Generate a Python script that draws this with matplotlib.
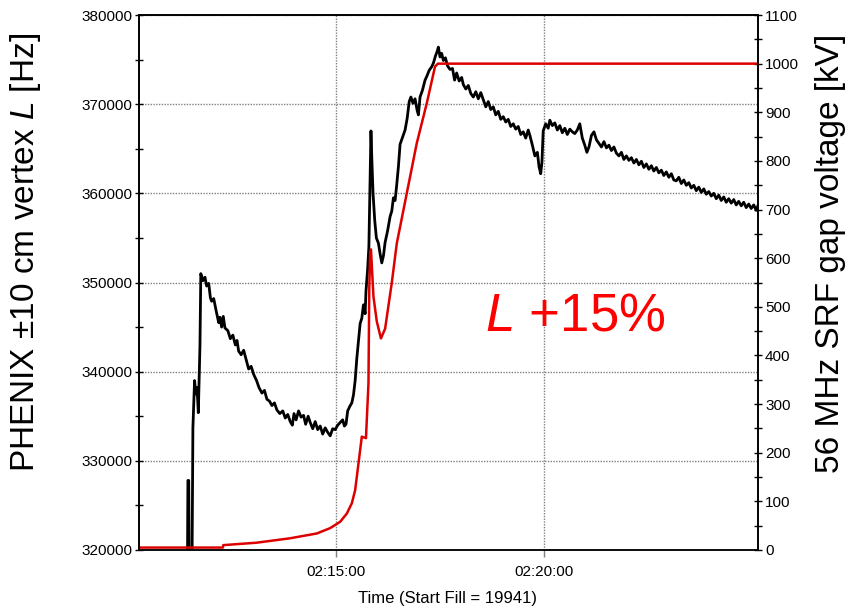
import matplotlib
matplotlib.use("Agg")
import matplotlib.pyplot as plt
from matplotlib.ticker import MultipleLocator, FixedLocator, FuncFormatter

plt.rcParams["font.family"] = ["Liberation Sans", "DejaVu Sans"]
plt.rcParams["mathtext.fontset"] = "custom"
plt.rcParams["mathtext.rm"] = "Liberation Sans"
plt.rcParams["mathtext.it"] = "Liberation Sans:italic"

# time in minutes after 02:10:00
lumi_time = [
    1.43, 1.44, 1.46, 1.47, 1.54, 1.56, 1.60, 1.63, 1.66, 1.69, 1.73, 1.75,
    1.80, 1.85, 1.89, 1.94, 1.98, 2.01, 2.06, 2.12, 2.18, 2.21, 2.25, 2.29,
    2.33, 2.40, 2.46, 2.52, 2.58, 2.62, 2.66, 2.72, 2.78, 2.85, 2.90, 2.96,
    3.02, 3.09, 3.15, 3.22, 3.28, 3.34, 3.40, 3.46, 3.52, 3.58, 3.65, 3.72,
    3.78, 3.84, 3.90, 3.95, 3.99, 4.04, 4.10, 4.16, 4.22, 4.27, 4.33, 4.38,
    4.44, 4.50, 4.56, 4.62, 4.68, 4.74, 4.80, 4.86, 4.92, 4.98, 5.04, 5.10,
    5.16, 5.20, 5.24, 5.28, 5.33, 5.38, 5.42, 5.46, 5.50, 5.54, 5.58, 5.62,
    5.66, 5.70, 5.72, 5.76, 5.79, 5.82, 5.84, 5.86, 5.89, 5.93, 5.97, 6.02,
    6.06, 6.10, 6.14, 6.18, 6.24, 6.30, 6.34, 6.38, 6.42, 6.46, 6.50, 6.54,
    6.60, 6.66, 6.71, 6.76, 6.80, 6.85, 6.90, 6.95, 6.98, 7.02, 7.08, 7.14,
    7.18, 7.24, 7.30, 7.34, 7.39, 7.43, 7.46, 7.50, 7.54, 7.58, 7.63, 7.68,
    7.74, 7.80, 7.85, 7.90, 7.96, 8.02, 8.06, 8.12, 8.18, 8.24, 8.30, 8.36,
    8.42, 8.48, 8.54, 8.60, 8.66, 8.72, 8.78, 8.84, 8.90, 8.96, 9.02, 9.08,
    9.14, 9.20, 9.26, 9.32, 9.38, 9.44, 9.50, 9.56, 9.62, 9.66, 9.72, 9.78,
    9.84, 9.88, 9.92, 9.95, 9.98, 10.04, 10.10, 10.14, 10.20, 10.26, 10.32, 10.38,
    10.44, 10.50, 10.56, 10.62, 10.68, 10.74, 10.80, 10.86, 10.92, 10.98, 11.03, 11.08,
    11.14, 11.20, 11.26, 11.32, 11.38, 11.44, 11.50, 11.56, 11.62, 11.68, 11.74, 11.80,
    11.86, 11.92, 11.98, 12.04, 12.10, 12.16, 12.22, 12.28, 12.34, 12.40, 12.46, 12.52,
    12.58, 12.64, 12.70, 12.76, 12.82, 12.88, 12.94, 13.00, 13.06, 13.12, 13.18, 13.24,
    13.30, 13.36, 13.42, 13.48, 13.54, 13.60, 13.66, 13.72, 13.78, 13.84, 13.90, 13.96,
    14.02, 14.08, 14.14, 14.20, 14.26, 14.32, 14.38, 14.44, 14.50, 14.56, 14.62, 14.68,
    14.74, 14.80, 14.86, 14.92, 14.98, 15.04, 15.10, 15.14,
]
lumi_rate = [
    319000, 327800, 327800, 319000, 319000, 333700, 339000, 337500, 338200, 335400, 343000, 351000,
    350200, 350600, 349600, 349900, 348300, 347900, 348200, 346800, 345500, 346100, 345000, 346200,
    344900, 344600, 343700, 344100, 343000, 343500, 342300, 341900, 342400, 341200, 340300, 340600,
    339700, 339000, 338200, 337600, 337900, 336900, 336700, 336200, 336500, 335700, 335300, 335600,
    334800, 335200, 334400, 334000, 335300, 334600, 335600, 334900, 335100, 334100, 335000, 334300,
    333600, 334400, 333500, 333900, 333000, 333700, 333200, 332800, 333600, 333500, 334000, 334300,
    334600, 333900, 334100, 335600, 336100, 336500, 337400, 339000, 341500, 343500, 345400, 346000,
    347500, 346500, 349000, 351500, 354000, 362000, 367000, 364000, 360000, 357000, 355000, 354400,
    353200, 352200, 353000, 354500, 355800, 357400, 358000, 359500, 359200, 361000, 363000, 365500,
    366300, 367100, 368400, 370300, 370800, 370100, 370600, 369300, 368800, 370800, 371600, 372700,
    373100, 373800, 374200, 374600, 375400, 375900, 376400, 375300, 375700, 374900, 375200, 374300,
    373900, 374000, 372700, 373500, 372600, 373000, 372200, 371700, 372100, 371200, 370800, 371400,
    370600, 371300, 370500, 369700, 370300, 369400, 369700, 368800, 369200, 368300, 368600, 368000,
    368300, 367500, 367800, 367200, 367500, 366600, 366900, 366200, 367100, 366500, 365400, 364200,
    364600, 363000, 362200, 363500, 367000, 367800, 367300, 368200, 367600, 367900, 367100, 367600,
    366800, 367300, 366600, 367200, 366900, 366700, 367100, 367800, 366200, 365400, 364600, 365200,
    366500, 366900, 366000, 365600, 365200, 365800, 365100, 365400, 364800, 365200, 364500, 364200,
    364600, 363800, 364200, 363700, 364000, 363400, 363800, 363200, 363600, 362900, 363300, 362700,
    363100, 362500, 362900, 362300, 362600, 362000, 362400, 361800, 362200, 361500, 361400, 361800,
    361100, 361500, 360900, 361200, 360600, 360900, 360300, 360700, 360100, 360500, 359900, 360200,
    359700, 360000, 359400, 359800, 359200, 359600, 359000, 359400, 358900, 359300, 358700, 359100,
    358600, 359000, 358400, 358800, 358300, 358700, 358100, 358600,
]

volt_time = [
    0.26, 2.28, 2.29, 3.09, 3.89, 4.54, 4.86, 5.10, 5.26, 5.38, 5.46, 5.54,
    5.62, 5.72, 5.78, 5.80, 5.82, 5.84, 5.90, 5.98, 6.08, 6.18, 6.34, 6.46,
    6.70, 6.94, 7.18, 7.38, 7.45, 15.15,
]
volt_kv = [
    5, 5, 10, 15, 24, 34, 45, 58, 75, 96, 123, 178,
    233, 230, 343, 540, 610, 618, 521, 470, 435, 455, 549, 630,
    733, 836, 918, 994, 1000, 1000,
]


def clock(m, pos=None):
    s = int(round(m * 60)) + 10 * 60
    return "02:%02d:%02d" % (s // 60, s % 60)


fig = plt.figure(figsize=(8.48, 6.08), dpi=100)
ax = fig.add_axes([0.1639, 0.0954, 0.7300, 0.8799])
ax2 = ax.twinx()

ax.plot(lumi_time, lumi_rate, color="black", lw=2.0)
ax2.plot(volt_time, volt_kv, color="#dd0000", lw=1.8)

ax.set_xlim(0.264, 15.144)
ax.set_ylim(320000, 380000)
ax2.set_ylim(0, 1100)

ax.xaxis.set_major_locator(FixedLocator([5, 10]))
ax.xaxis.set_major_formatter(FuncFormatter(clock))
ax.yaxis.set_major_locator(MultipleLocator(10000))
ax.yaxis.set_minor_locator(MultipleLocator(5000))
ax2.yaxis.set_major_locator(MultipleLocator(100))
ax2.yaxis.set_minor_locator(MultipleLocator(50))

ax.grid(True, which="major", color="#808080", linestyle=(0, (1, 1)), lw=1)
ax.tick_params(axis="y", which="both", direction="inout", length=6, width=1, labelsize=11, pad=2)
ax.tick_params(axis="x", direction="out", length=5, width=1, color="#808080", labelsize=11, pad=6)
ax2.tick_params(axis="y", which="both", direction="inout", length=6, width=1, labelsize=11, pad=2)
for a in (ax, ax2):
    for sp in a.spines.values():
        sp.set_linewidth(1.2)
ax.spines["bottom"].set_color("#555555")

ax.text(8.58, 344670, r"$\mathit{L}$ +15%", color="#ff0000", fontsize=38,
        ha="left", va="baseline")

fig.text(0.0295, 0.584, r"PHENIX ±10 cm vertex $\mathit{L}$ [Hz]", rotation=90,
         fontsize=24, ha="center", va="center")
fig.text(0.979, 0.584, "56 MHz SRF gap voltage [kV]", rotation=90,
         fontsize=24, ha="center", va="center")
fig.text(0.5283, 0.016, "Time (Start Fill = 19941)", fontsize=12,
         ha="center", va="center")

fig.savefig("out.png", dpi=100)
